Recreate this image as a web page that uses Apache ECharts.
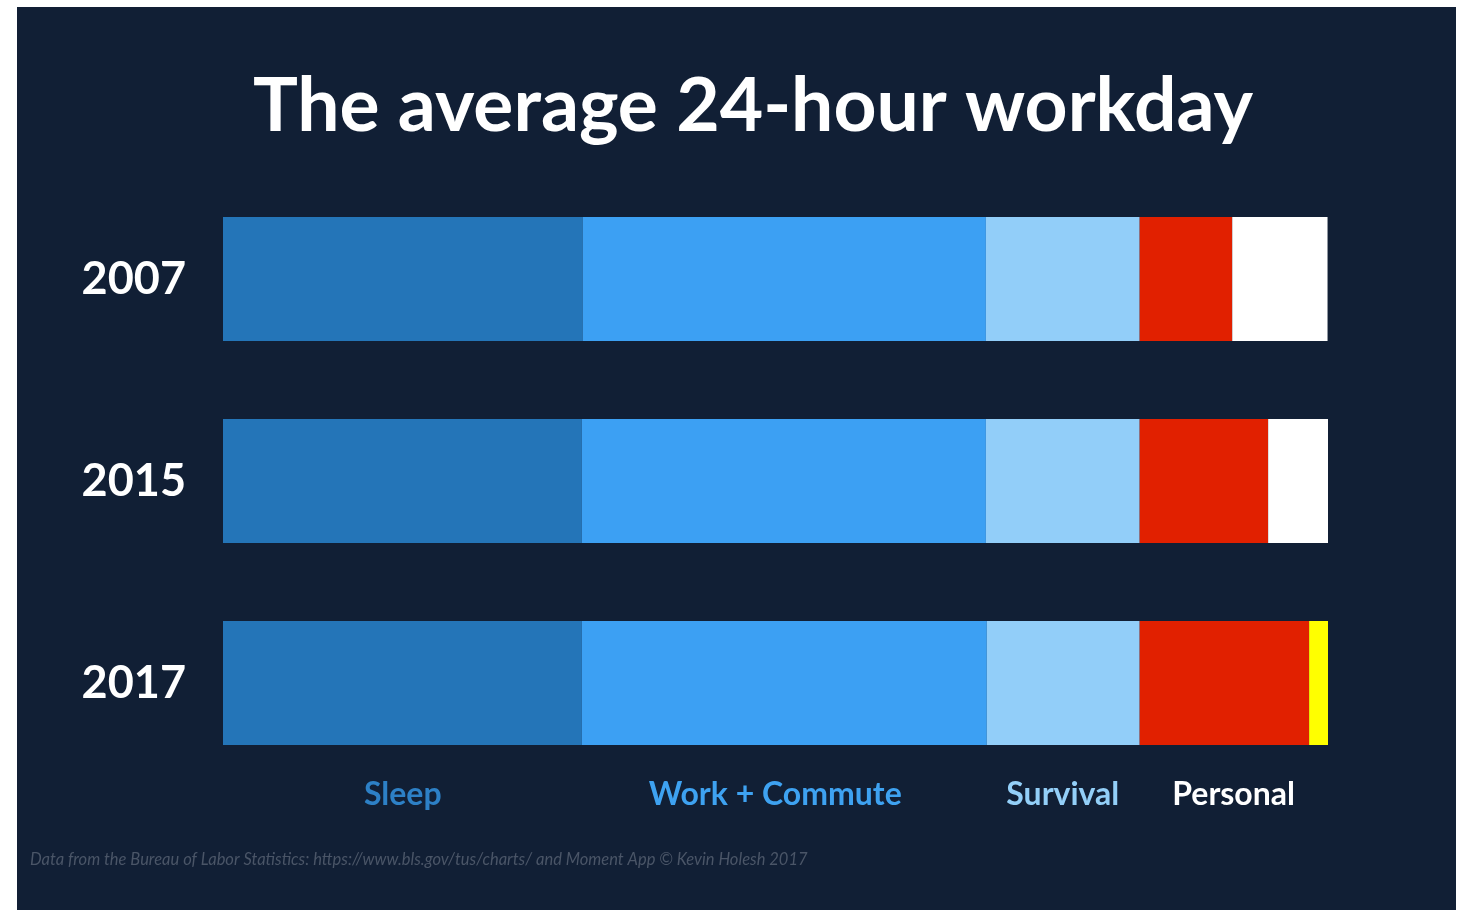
<!DOCTYPE html>
<html>
<head>
<meta charset="utf-8">
<script src="https://cdn.jsdelivr.net/npm/echarts@6/dist/echarts.min.js"></script>
<style>
  html, body { margin: 0; padding: 0; background: #ffffff; width: 1468px; height: 910px; overflow: hidden; }
  #chart { position: absolute; left: 17px; top: 7px; width: 1439px; height: 903px; }
</style>
</head>
<body>
<div id="chart"></div>
<script>
// Hours per day, by category and year (the day totals 24 hours)
const years = ['2007', '2015', '2017'];
const sleepHours = [7.81, 7.79, 7.79];
const workHours = [8.76, 8.78, 8.80];
const survivalHours = [3.34, 3.34, 3.32];
const phoneHours = [2.01, 2.79, 3.68];
const freeHours = [2.07, 1.30, 0.41];
const categoryLabels = ['Sleep', 'Work + Commute', 'Survival', 'Personal'];
const titleText = 'The average 24-hour workday';
const sourceText = 'Data from the Bureau of Labor Statistics: https://www.bls.gov/tus/charts/ and Moment App \u00A9 Kevin Holesh 2017';

const FONT = 'Lato';
const BG = '#111f35';
const colors = {
  sleep: '#2475b8',
  work: '#3ca0f3',
  survival: '#92cef9',
  phone: '#e12000',
  free: '#ffffff',
  freeLatest: '#ffff00'
};
const labelColors = ['#2d80c6', '#3ea2f1', '#93cff8', '#ffffff'];
const captionNudge = [0, -9, 0, 0];
const freeColors = [colors.free, colors.free, colors.freeLatest];

const chart = echarts.init(document.getElementById('chart'), null, { renderer: 'canvas' });

function barSeries(name, data, color) {
  return {
    name: name,
    type: 'bar',
    stack: 'day',
    barWidth: 124,
    data: data,
    itemStyle: { color: color },
    emphasis: { disabled: true },
    animation: false
  };
}

chart.setOption({
  backgroundColor: BG,
  animation: false,
  grid: { left: 206, right: 128, top: 171, bottom: 126 },
  xAxis: { type: 'value', min: 0, max: 24, show: false },
  yAxis: {
    type: 'category',
    data: years,
    inverse: true,
    axisLine: { show: false },
    axisTick: { show: false },
    axisLabel: {
      color: '#ffffff',
      fontFamily: FONT,
      fontWeight: 'bold',
      fontSize: 45,
      margin: 37,
      padding: [4, 0, 0, 0]
    }
  },
  series: [
    barSeries('Sleep', sleepHours, colors.sleep),
    barSeries('Work + Commute', workHours, colors.work),
    barSeries('Survival', survivalHours, colors.survival),
    barSeries('Phone', phoneHours, colors.phone),
    barSeries('Free', freeHours.map((v, i) => ({ value: v, itemStyle: { color: freeColors[i] } })), colors.free)
  ]
});

// Category captions centred under each segment of the first bar
const starts = [0, sleepHours[0], sleepHours[0] + workHours[0], sleepHours[0] + workHours[0] + survivalHours[0]];
const widths = [sleepHours[0], workHours[0], survivalHours[0], phoneHours[0] + freeHours[0]];
const captionY = 788;
const captions = categoryLabels.map((txt, i) => {
  const px = chart.convertToPixel({ gridIndex: 0 }, [starts[i] + widths[i] / 2, 0])[0];
  return {
    type: 'text',
    x: px + captionNudge[i],
    y: captionY,
    style: {
      text: txt,
      fill: labelColors[i],
      font: 'bold 32px ' + FONT,
      align: 'center',
      verticalAlign: 'middle'
    }
  };
});

chart.setOption({
  graphic: [
    {
      type: 'text',
      x: 736,
      y: 100,
      style: {
        text: titleText,
        fill: '#ffffff',
        font: 'bold 75px ' + FONT,
        align: 'center',
        verticalAlign: 'middle'
      }
    },
    {
      type: 'text',
      x: 13,
      y: 853,
      style: {
        text: sourceText,
        fill: '#4a5567',
        font: 'italic 16.5px ' + FONT,
        align: 'left',
        verticalAlign: 'middle'
      }
    }
  ].concat(captions)
});
</script>
</body>
</html>
